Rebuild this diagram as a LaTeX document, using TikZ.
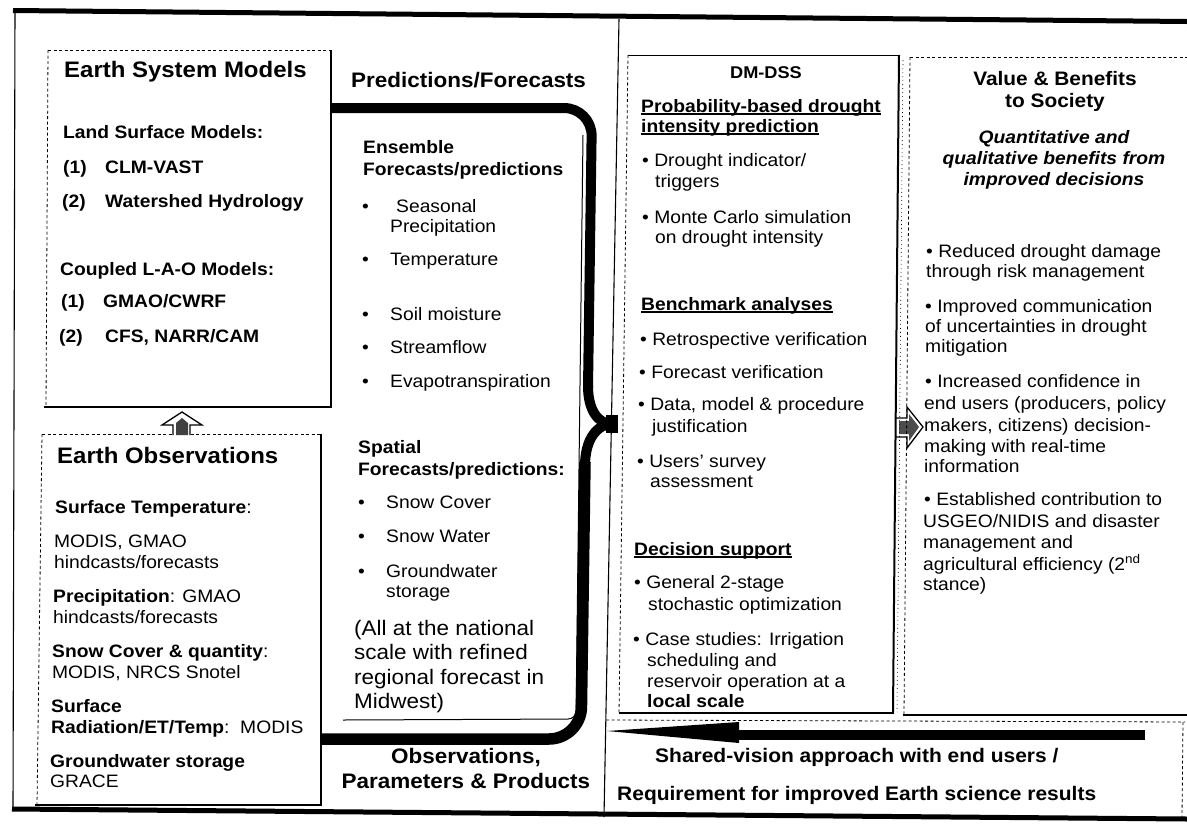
\documentclass[tikz,border=0pt]{standalone}
\usepackage{fontspec}
\setmainfont{Liberation Sans}[FakeStretch=1.07]
\usetikzlibrary{calc}
\newsavebox\ulbox
\newcommand\ulbar[1]{\sbox\ulbox{#1}\rlap{\rule[-2.8pt]{\wd\ulbox}{1.4pt}}\usebox\ulbox}
\begin{document}
\begin{tikzpicture}[x=1pt,y=-1pt,
  frame/.style={line width=5pt},
  edge/.style={line width=1.1pt},
  solidedge/.style={line width=2.2pt},
  dashedge/.style={line width=0.8pt, dash pattern=on 3pt off 2.5pt},
  flow/.style={line width=10pt},
  lbl/.style={inner sep=0pt, anchor=base west},
  clbl/.style={inner sep=0pt, anchor=base},
  ttl/.style={font=\fontsize{22.4}{26}\selectfont\bfseries},
  hd/.style={font=\fontsize{21}{25}\selectfont\bfseries},
  sub/.style={font=\fontsize{18}{21}\selectfont\bfseries},
  txt/.style={font=\fontsize{18}{21}\selectfont},
  big/.style={font=\fontsize{21}{25}\selectfont},
  vttl/.style={font=\fontsize{19.5}{23}\selectfont\bfseries},
  qit/.style={font=\fontsize{18}{21}\selectfont\bfseries\itshape},
  bot/.style={font=\fontsize{19.6}{23}\selectfont\bfseries},
  dss/.style={font=\fontsize{17}{20}\selectfont\bfseries},
  hollow/.style={line width=1.3pt, fill=white},
]
\useasboundingbox (0,0) rectangle (1187,823);
\fill[white] (0,0) rectangle (1187,823);

% ---------- outer frame and dividers ----------
\coordinate (frTL) at (13,10.5);  \coordinate (frTR) at (1187,21.5);
\coordinate (frBL) at (12,809);   \coordinate (frBR) at (1187,819);
\draw[frame] (frTL) -- (frTR);
\draw[frame] (frBL) -- (frBR);
\draw[edge] (15,9) -- (13,811);
\draw[edge] (619,19) -- (604,817);

% ---------- Earth System Models box ----------
\draw[dashedge] (48,50) -- (333,50);
\draw[dashedge] (48,50) -- (46,407);
\draw[line width=1.5pt] (331,50) -- (331,408);
\draw[solidedge] (44,407) -- (332,407);

\node[lbl,ttl] (esmT) at (64,77) {Earth System Models};
\node[lbl,sub] (esmL) at (63,138) {Land Surface Models:};
\node[lbl,sub] (esmL1n) at (63,173) {(1)};
\node[lbl,sub] (esmL1) at (105,173) {CLM-VAST};
\node[lbl,sub] (esmL2n) at (62,207) {(2)};
\node[lbl,sub] (esmL2) at (105,207) {Watershed Hydrology};
\node[lbl,sub] (esmC) at (60,275) {Coupled L-A-O Models:};
\node[lbl,sub] (esmC1n) at (61,307) {(1)};
\node[lbl,sub] (esmC1) at (103,307) {GMAO/CWRF};
\node[lbl,sub] (esmC2n) at (59,342) {(2)};
\node[lbl,sub] (esmC2) at (105,342) {CFS, NARR/CAM};

% ---------- Earth Observations box ----------
\draw[dashedge] (42,434) -- (321,434);
\draw[dashedge] (42,434) -- (37,805);
\draw[line width=1.5pt] (321,434) -- (321,806);
\draw[solidedge] (35,805) -- (322,805);

\node[lbl,ttl] (eoT) at (57,463) {Earth Observations};
\node[lbl,txt] (eo1) at (55,513) {\bfseries Surface Temperature\mdseries:};
\node[lbl,txt] (eo1a) at (54,547) {MODIS, GMAO};
\node[lbl,txt] (eo1b) at (54,568) {hindcasts/forecasts};
\node[lbl,txt] (eo2) at (53,602) {\bfseries Precipitation\mdseries: GMAO};
\node[lbl,txt] (eo2a) at (53,623) {hindcasts/forecasts};
\node[lbl,txt] (eo3) at (52,657) {\bfseries Snow Cover \& quantity\mdseries:};
\node[lbl,txt] (eo3a) at (52,678) {MODIS, NRCS Snotel};
\node[lbl,txt] (eo4) at (51,712) {\bfseries Surface};
\node[lbl,txt] (eo4a) at (51,733) {\bfseries Radiation/ET/Temp\mdseries:\ \ MODIS};
\node[lbl,txt] (eo5) at (50,767) {\bfseries Groundwater storage};
\node[lbl,txt] (eo5a) at (50,787) {GRACE};

% hollow block arrow from observations up to the models
\draw[hollow] (173,435) -- (173,425) -- (162,425) -- (182,412) -- (202,425)
  -- (190,425) -- (190,435);
\fill[black!75] (176,435) -- (176,423) -- (182,418) -- (188,423) -- (188,435) -- cycle;

% ---------- forecast panel and the thick flow path ----------
\draw[line width=1pt, rounded corners=8pt] (343,720) -- (576,719) -- (583,135);
\draw[flow, rounded corners=28pt] (331,108) -- (592,108) -- (588,388);
\draw[flow] (588,386) .. controls (588,410) and (598,424) .. (612,424);
\draw[flow] (585,466) .. controls (585,438) and (598,424) .. (612,424);
\fill (606,415) rectangle (618,433);
\draw[line width=11.5pt, rounded corners=32pt] (585,462) -- (581,739) -- (320,739);

\node[lbl,hd] (predT) at (351,87) {Predictions/Forecasts};

\node[lbl,sub] (ensA) at (363,153) {Ensemble};
\node[lbl,sub] (ensB) at (363,175) {Forecasts/predictions};
\node[lbl,txt] (ensb1) at (362,212) {•};
\node[lbl,txt] (ens1) at (396,212) {Seasonal};
\node[lbl,txt] (ens1b) at (390,232) {Precipitation};
\node[lbl,txt] (ensb2) at (362,265) {•};
\node[lbl,txt] (ens2) at (390,265) {Temperature};
\node[lbl,txt] (ensb3) at (362,320) {•};
\node[lbl,txt] (ens3) at (390,320) {Soil moisture};
\node[lbl,txt] (ensb4) at (362,353) {•};
\node[lbl,txt] (ens4) at (390,353) {Streamflow};
\node[lbl,txt] (ensb5) at (362,387) {•};
\node[lbl,txt] (ens5) at (390,387) {Evapotranspiration};

\node[lbl,sub] (spaA) at (358,453) {Spatial};
\node[lbl,sub] (spaB) at (358,475) {Forecasts/predictions:};
\node[lbl,txt] (spab1) at (358,508) {•};
\node[lbl,txt] (spa1) at (386,508) {Snow Cover};
\node[lbl,txt] (spab2) at (358,542) {•};
\node[lbl,txt] (spa2) at (386,542) {Snow Water};
\node[lbl,txt] (spab3) at (358,577) {•};
\node[lbl,txt] (spa3) at (386,577) {Groundwater};
\node[lbl,txt] (spa3b) at (386,597) {storage};
\node[lbl,big] (allA) at (354,635) {(All at the national};
\node[lbl,big] (allB) at (354,659) {scale with refined};
\node[lbl,big] (allC) at (354,684) {regional forecast in};
\node[lbl,big] (allD) at (354,708) {Midwest)};

\node[clbl,hd] (obsA) at (466,763) {Observations,};
\node[clbl,hd] (obsB) at (466,788) {Parameters \& Products};

% ---------- DM-DSS box ----------
\draw[line width=0.9pt] (628,55) -- (900,55);
\draw[dashedge] (628,55) -- (619,713);
\draw[line width=2pt] (899,55) -- (893,713);
\draw[line width=1.6pt] (619,713) -- (894,713);

\node[clbl,dss] (dssT) at (766,78) {DM-DSS};
\node[lbl,sub] (dssP1) at (641,112) {\ulbar{Probability-based drought}};
\node[lbl,sub] (dssP2) at (641,132) {\ulbar{intensity prediction}};
\node[lbl,txt] (dssP3) at (642,166) {•\ Drought indicator/};
\node[lbl,txt] (dssP3b) at (655,187) {triggers};
\node[lbl,txt] (dssP4) at (642,223) {•\ Monte Carlo simulation};
\node[lbl,txt] (dssP4b) at (655,243) {on drought intensity};
\node[lbl,sub] (dssB) at (641,310) {\ulbar{Benchmark analyses}};
\node[lbl,txt] (dssB1) at (640,345) {•\ Retrospective verification};
\node[lbl,txt] (dssB2) at (639,378) {•\ Forecast verification};
\node[lbl,txt] (dssB3) at (638,410) {•\ Data, model \& procedure};
\node[lbl,txt] (dssB3b) at (652,432) {justification};
\node[lbl,txt] (dssB4) at (637,467) {•\ Users' survey};
\node[lbl,txt] (dssB4b) at (650,487) {assessment};
\node[lbl,sub] (dssD) at (634,555) {\ulbar{Decision support}};
\node[lbl,txt] (dssD1) at (634,588) {•\ General 2-stage};
\node[lbl,txt] (dssD1b) at (648,610) {stochastic optimization};
\node[lbl,txt] (dssD2) at (633,645) {•\ Case studies: Irrigation};
\node[lbl,txt] (dssD2b) at (647,666) {scheduling and};
\node[lbl,txt] (dssD2c) at (647,687) {reservoir operation at a};
\node[lbl,sub] (dssD2d) at (647,707) {local scale};

% hollow block arrow from DM-DSS to the benefits
\draw[hollow] (896,418) -- (907,418) -- (907,407) -- (923,427) -- (907,448)
  -- (907,437) -- (896,437) -- cycle;
\fill[black!70] (899,421) -- (909,421) -- (909,414) -- (919,427) -- (909,441)
  -- (909,434) -- (899,434) -- cycle;

% ---------- Value & Benefits box ----------
\draw[dashedge] (910,57) -- (1187,57);
\draw[dashedge] (910,57) -- (904,715);
\draw[line width=0.6pt, dash pattern=on 1pt off 3pt] (903,60) -- (897,712);
\draw[line width=1.6pt] (903,715) -- (1187,715);

\node[clbl,vttl] (valT1) at (1055,85) {Value \& Benefits};
\node[clbl,vttl] (valT2) at (1055,107) {to Society};
\node[clbl,qit] (valQ1) at (1054,143) {Quantitative and};
\node[clbl,qit] (valQ2) at (1054,164) {qualitative benefits from};
\node[clbl,qit] (valQ3) at (1054,185) {improved decisions};

\node[lbl,txt] (val1) at (926,257) {•\ Reduced drought damage};
\node[lbl,txt] (val1b) at (926,277) {through risk management};
\node[lbl,txt] (val2) at (925,312) {•\ Improved communication};
\node[lbl,txt] (val2b) at (925,332) {of uncertainties in drought};
\node[lbl,txt] (val2c) at (925,352) {mitigation};
\node[lbl,txt] (val3) at (925,387) {•\ Increased confidence in};
\node[lbl,txt] (val3b) at (924,409) {end users (producers, policy};
\node[lbl,txt] (val3c) at (924,431) {makers, citizens) decision-};
\node[lbl,txt] (val3d) at (924,452) {making with real-time};
\node[lbl,txt] (val3e) at (924,472) {information};
\node[lbl,txt] (val4) at (924,505) {•\ Established contribution to};
\node[lbl,txt] (val4b) at (923,527) {USGEO/NIDIS and disaster};
\node[lbl,txt] (val4c) at (923,548) {management and};
\node[lbl,txt] (val4d) at (923,570) {agricultural efficiency (2\textsuperscript{nd}};
\node[lbl,txt] (val4e) at (923,590) {stance)};

% ---------- feedback strip along the bottom ----------
\draw[dashedge] (606,720) -- (1185,722);
\draw[dashedge] (1183,722) -- (1182,818);
\coordinate (svTail) at (1145,735);
\coordinate (svTip) at (607,731);
\draw[line width=10pt] (svTail) -- (738,735);
\fill ($(svTip)+(132,-9)$) -- (svTip) -- ($(svTip)+(132,12)$) -- cycle;

\node[lbl,bot] (shared) at (655,762) {Shared-vision approach with end users /};
\node[lbl,bot] (requir) at (617,800) {Requirement for improved Earth science results};
\end{tikzpicture}
\end{document}
